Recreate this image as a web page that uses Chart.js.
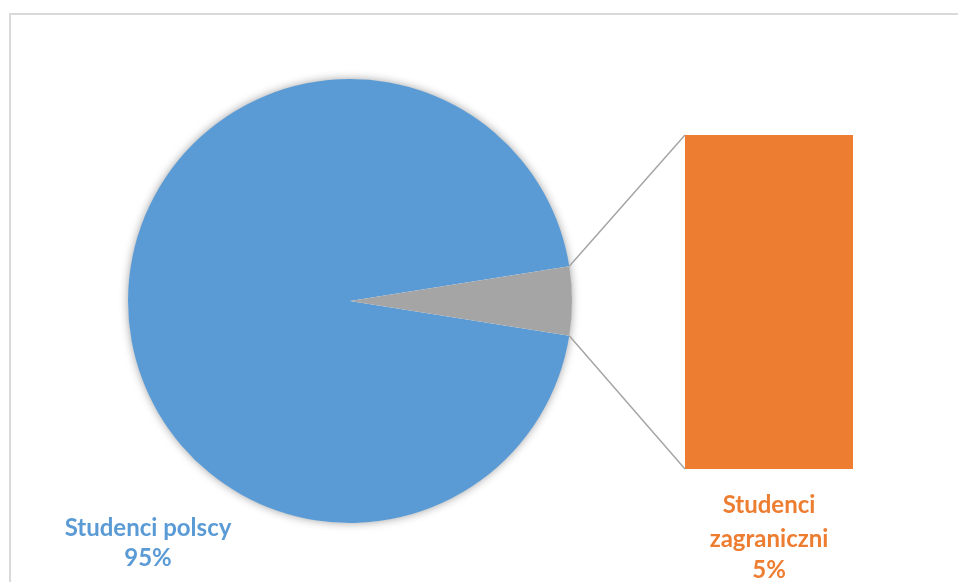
<!DOCTYPE html>
<html>
<head>
<meta charset="utf-8">
<script src="https://cdn.jsdelivr.net/npm/chart.js@4"></script>
<style>
  html, body { margin: 0; padding: 0; background: #fff; overflow: hidden; }
  #wrap { position: relative; width: 958px; height: 582px; }
  #frame { position: absolute; left: 9px; top: 13px; width: 1000px; height: 600px;
           border: 2px solid #d9d9d9; box-sizing: border-box; }
  canvas { position: absolute; left: 0; top: 0; }
</style>
</head>
<body>
<div id="wrap">
  <div id="frame"></div>
  <canvas id="pie" width="958" height="582"></canvas>
  <canvas id="bar" width="958" height="582"></canvas>
</div>
<script>
// dane
const categories = ['Studenci polscy', 'Studenci zagraniczni']
const shares = [95, 5]
const pieColors = ['#5b9bd5', '#a5a5a5']
const barColor = '#ed7d31'

const labelFont = 'bold 24px Lato, "Open Sans", sans-serif'

// cien pod kolem
const pieShadow = {
  id: 'pieShadow',
  beforeDatasetsDraw(chart) {
    const arc = chart.getDatasetMeta(0).data[0]
    const ctx = chart.ctx
    ctx.save()
    ctx.shadowColor = 'rgba(0,0,0,0.4)'
    ctx.shadowBlur = 10
    ctx.fillStyle = '#fff'
    ctx.beginPath()
    ctx.arc(arc.x, arc.y, arc.outerRadius - 0.5, 0, Math.PI * 2)
    ctx.fill()
    ctx.restore()
  },
  afterDraw(chart) {
    const arc = chart.getDatasetMeta(0).data[0]
    const ctx = chart.ctx
    ctx.save()
    ctx.font = labelFont
    ctx.fillStyle = pieColors[0]
    ctx.textAlign = 'center'
    ctx.textBaseline = 'alphabetic'
    ctx.fillText(categories[0], arc.x - 202, arc.y + 235)
    ctx.fillText(shares[0] + '%', arc.x - 202, arc.y + 265)
    ctx.restore()
  }
}

const pieChart = new Chart(document.getElementById('pie'), {
  type: 'pie',
  data: {
    labels: [categories[0], 'Inne'],
    datasets: [{
      data: shares,
      backgroundColor: pieColors,
      borderWidth: 0
    }]
  },
  options: {
    responsive: false,
    animation: false,
    rotation: 99,
    layout: { padding: { left: 128, right: 386, top: 79, bottom: 59 } },
    plugins: { legend: { display: false }, tooltip: { enabled: false } }
  },
  plugins: [pieShadow]
})

// linie laczace + cien slupka + etykieta
const barExtras = {
  id: 'barExtras',
  beforeDatasetsDraw(chart) {
    const slice = pieChart.getDatasetMeta(0).data[1]
    const bar = chart.getDatasetMeta(0).data[0]
    const left = bar.x - bar.width / 2
    const r = slice.outerRadius
    const ctx = chart.ctx
    ctx.save()
    ctx.strokeStyle = '#a5a5a5'
    ctx.lineWidth = 1.5
    ctx.beginPath()
    ctx.moveTo(slice.x + r * Math.cos(slice.startAngle), slice.y + r * Math.sin(slice.startAngle))
    ctx.lineTo(left, bar.y)
    ctx.moveTo(slice.x + r * Math.cos(slice.endAngle), slice.y + r * Math.sin(slice.endAngle))
    ctx.lineTo(left, bar.base)
    ctx.stroke()
    ctx.restore()
    ctx.save()
    ctx.shadowColor = 'rgba(0,0,0,0.35)'
    ctx.shadowBlur = 9
  },
  afterDatasetsDraw(chart) {
    chart.ctx.restore()
  },
  afterDraw(chart) {
    const bar = chart.getDatasetMeta(0).data[0]
    const ctx = chart.ctx
    ctx.save()
    ctx.font = labelFont
    ctx.fillStyle = barColor
    ctx.textAlign = 'center'
    ctx.fillText('Studenci', bar.x, bar.base + 44)
    ctx.fillText('zagraniczni', bar.x, bar.base + 78)
    ctx.fillText(shares[1] + '%', bar.x, bar.base + 109)
    ctx.restore()
  }
}

const barChart = new Chart(document.getElementById('bar'), {
  type: 'bar',
  data: {
    labels: [categories[1]],
    datasets: [{
      data: [shares[1]],
      backgroundColor: barColor,
      borderWidth: 0,
      barPercentage: 1,
      categoryPercentage: 1
    }]
  },
  options: {
    responsive: false,
    animation: false,
    layout: { padding: { left: 685, right: 105, top: 135, bottom: 113 } },
    scales: {
      x: { display: false },
      y: { display: false, min: 0, max: shares[1] }
    },
    plugins: { legend: { display: false }, tooltip: { enabled: false } }
  },
  plugins: [barExtras]
})
</script>
</body>
</html>
